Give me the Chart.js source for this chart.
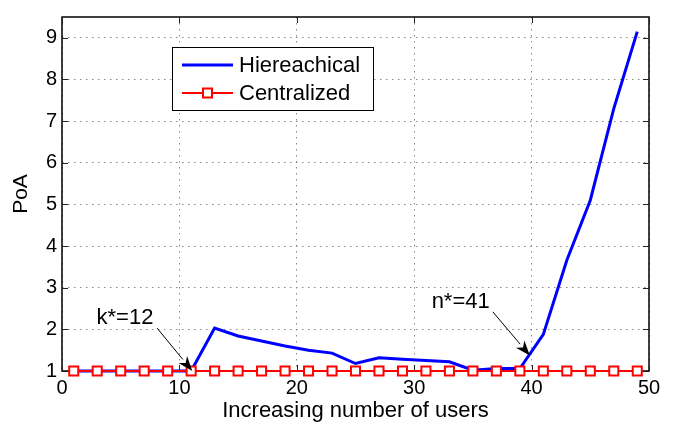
<!DOCTYPE html>
<html>
<head>
<meta charset="utf-8">
<script src="https://cdn.jsdelivr.net/npm/chart.js@4"></script>
<style>
html,body{margin:0;padding:0;background:#fff;}
canvas{display:block;}
</style>
</head>
<body>
<canvas id="c" width="682" height="428"></canvas>
<script>
const users = [1,3,5,7,9,11,13,15,17,19,21,23,25,27,29,31,33,35,37,39,41,43,45,47,49];
const hierarchical = [1,1,1,1,1,1.0,2.03,1.84,1.72,1.6,1.5,1.43,1.18,1.32,1.28,1.25,1.22,1.02,1.06,1.06,1.88,3.66,5.1,7.3,9.15];
const centralized = [1,1,1,1,1,1,1,1,1,1,1,1,1,1,1,1,1,1,1,1,1,1,1,1,1];
const seriesNames = ['Hiereachical','Centralized'];
const xTicks = [0,10,20,30,40,50];
const yTicks = [1,2,3,4,5,6,7,8,9];
const annotations = [
  {text:'k*=12', tx:5.36, ty:2.27, x0:8.1, y0:2.03, x1:11.1, y1:1.0},
  {text:'n*=41', tx:33.96, ty:2.65, x0:36.7, y0:2.42, x1:39.85, y1:1.37}
];

const FONT = '"Liberation Sans", Arial, Helvetica, sans-serif';

const toPts = (xs, ys) => xs.map((x,i)=>({x:x, y:ys[i]}));

const framePlugin = {
  id:'frame',
  beforeDatasetsDraw(chart){
    const {ctx, chartArea:a, scales:{x, y}} = chart;
    ctx.save();
    ctx.strokeStyle = '#000';
    ctx.lineWidth = 1.5;
    ctx.strokeRect(a.left, a.top, a.right - a.left, a.bottom - a.top);
    const tl = 6;
    ctx.lineWidth = 1;
    ctx.strokeStyle = '#222';
    xTicks.forEach(v=>{
      const px = Math.round(x.getPixelForValue(v))+0.5;
      ctx.beginPath(); ctx.moveTo(px, a.bottom); ctx.lineTo(px, a.bottom - tl); ctx.stroke();
      ctx.beginPath(); ctx.moveTo(px, a.top); ctx.lineTo(px, a.top + tl); ctx.stroke();
    });
    yTicks.forEach(v=>{
      const py = Math.round(y.getPixelForValue(v))+0.5;
      ctx.beginPath(); ctx.moveTo(a.left, py); ctx.lineTo(a.left + tl, py); ctx.stroke();
      ctx.beginPath(); ctx.moveTo(a.right, py); ctx.lineTo(a.right - tl, py); ctx.stroke();
    });
    ctx.restore();
  },
  afterDraw(chart){
    const {ctx, scales:{x, y}} = chart;
    ctx.save();
    ctx.fillStyle = '#000';
    ctx.font = '22px ' + FONT;
    ctx.textAlign = 'center';
    ctx.textBaseline = 'middle';
    annotations.forEach(an=>{
      ctx.fillText(an.text, x.getPixelForValue(an.tx), y.getPixelForValue(an.ty));
      const x0 = x.getPixelForValue(an.x0), y0 = y.getPixelForValue(an.y0);
      const x1 = x.getPixelForValue(an.x1), y1 = y.getPixelForValue(an.y1);
      const ang = Math.atan2(y1-y0, x1-x0);
      const hl = 15, hw = 5.5;
      const bx = x1 - hl*Math.cos(ang), by = y1 - hl*Math.sin(ang);
      ctx.strokeStyle = '#000';
      ctx.lineWidth = 1;
      ctx.beginPath(); ctx.moveTo(x0,y0); ctx.lineTo(bx,by); ctx.stroke();
      ctx.beginPath();
      ctx.moveTo(x1,y1);
      ctx.lineTo(bx + hw*Math.sin(ang), by - hw*Math.cos(ang));
      ctx.lineTo(x1 - 0.7*hl*Math.cos(ang), y1 - 0.7*hl*Math.sin(ang));
      ctx.lineTo(bx - hw*Math.sin(ang), by + hw*Math.cos(ang));
      ctx.closePath();
      ctx.fill();
    });

    const L = {x:172, y:47, w:201, h:63};
    ctx.fillStyle = '#fff';
    ctx.fillRect(L.x, L.y, L.w, L.h);
    ctx.strokeStyle = '#000';
    ctx.lineWidth = 1;
    ctx.strokeRect(L.x+0.5, L.y+0.5, L.w, L.h);
    const rows = [65, 93];
    chart.data.datasets.forEach((ds, i)=>{
      const ry = rows[i];
      ctx.strokeStyle = ds.borderColor;
      ctx.lineWidth = ds.borderWidth;
      ctx.beginPath(); ctx.moveTo(182, ry); ctx.lineTo(233, ry); ctx.stroke();
      if (ds.pointRadius > 0) {
        ctx.fillStyle = '#fff';
        ctx.fillRect(203, ry-4.5, 9, 9);
        ctx.lineWidth = 2;
        ctx.strokeRect(203, ry-4.5, 9, 9);
      }
      ctx.fillStyle = '#000';
      ctx.font = '22px ' + FONT;
      ctx.textAlign = 'left';
      ctx.textBaseline = 'middle';
      ctx.fillText(ds.label, 239, ry+1);
    });
    ctx.restore();
  }
};

new Chart(document.getElementById('c'), {
  type:'line',
  data:{
    datasets:[
      {label:seriesNames[0], data:toPts(users, hierarchical), borderColor:'#0000ff', borderWidth:3,
       pointRadius:0, tension:0, order:2, fill:false, clip:false},
      {label:seriesNames[1], data:toPts(users, centralized), borderColor:'#ff0000', borderWidth:2,
       pointStyle:'rect', pointRadius:6.4, pointBorderWidth:2, pointBackgroundColor:'#fff',
       pointBorderColor:'#ff0000', tension:0, order:1, fill:false, clip:false}
    ]
  },
  options:{
    responsive:false,
    animation:false,
    events:[],
    layout:{padding:{left:0, top:5, right:33, bottom:0}},
    plugins:{legend:{display:false}, tooltip:{enabled:false}},
    scales:{
      x:{
        type:'linear', min:0, max:50,
        afterBuildTicks(s){ s.ticks = xTicks.map(v=>({value:v})); },
        afterFit(s){ s.height = 57; },
        ticks:{color:'#000', padding:5, font:{family:FONT, size:20}, maxRotation:0},
        grid:{color:'#8a8a8a', lineWidth:1, drawTicks:false},
        border:{display:false, dash:[1.5,4.5]},
        title:{display:true, text:'Increasing number of users', color:'#000',
               font:{family:FONT, size:22}, padding:{top:0, bottom:4}}
      },
      y:{
        type:'linear', min:1, max:9.5,
        afterBuildTicks(s){ s.ticks = yTicks.map(v=>({value:v})); },
        afterFit(s){ s.width = 62; },
        ticks:{color:'#000', padding:5, font:{family:FONT, size:20}},
        grid:{color:'#8a8a8a', lineWidth:1, drawTicks:false},
        border:{display:false, dash:[1.5,4.5]},
        title:{display:true, text:'PoA', color:'#000',
               font:{family:FONT, size:21}, padding:{top:9, bottom:0}}
      }
    }
  },
  plugins:[framePlugin]
});
</script>
</body>
</html>
